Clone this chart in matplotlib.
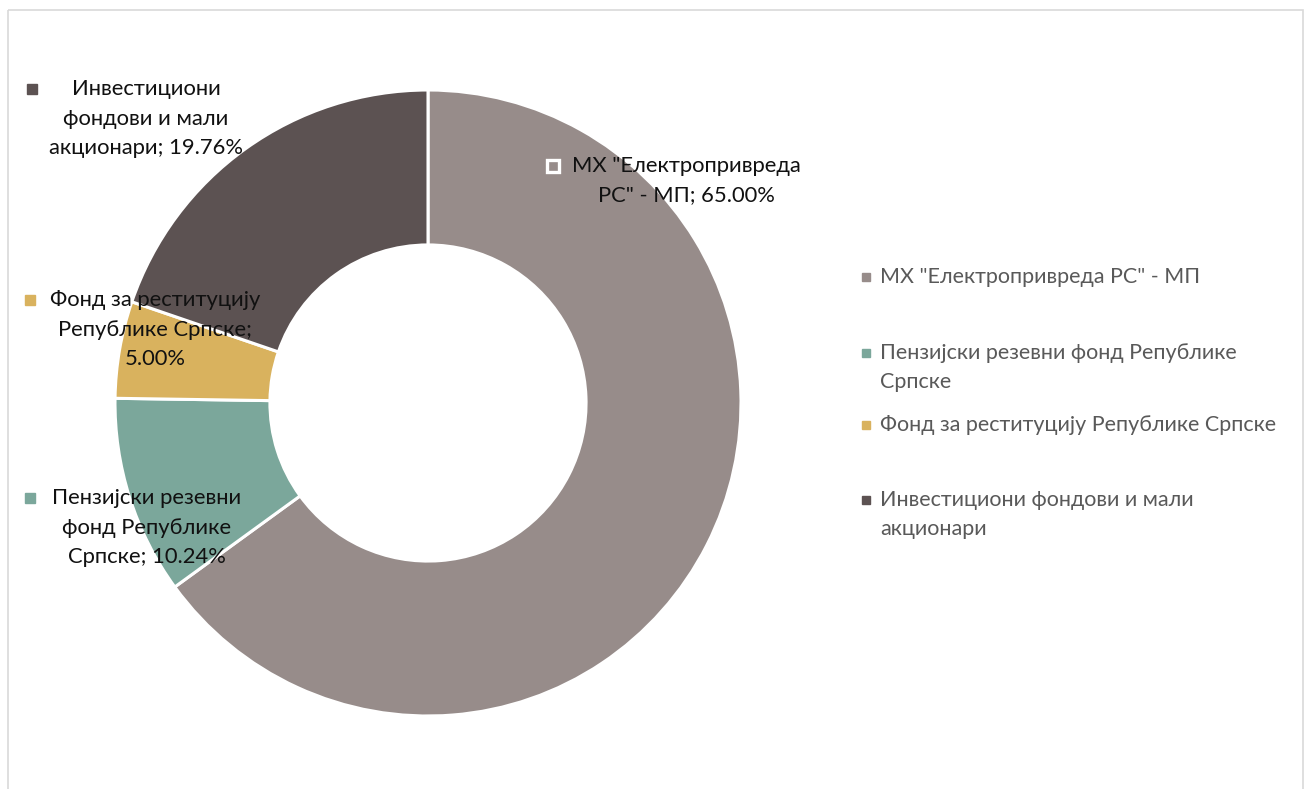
import matplotlib
matplotlib.use("Agg")
import matplotlib.pyplot as plt
from matplotlib.patches import Rectangle

categories = ['МХ "Електропривреда РС" - МП',
              'Пензијски резевни фонд Републике Српске',
              'Фонд за реституцију Републике Српске',
              'Инвестициони фондови и мали акционари']
values = [65.00, 10.24, 5.00, 19.76]
colors = ['#978c8a', '#7ba79b', '#d9b25e', '#5c5252']
label_lines = [
    ['МХ "Електропривреда', 'РС" - МП; 65.00%'],
    ['Пензијски резевни', 'фонд Републике', 'Српске; 10.24%'],
    ['Фонд за реституцију', 'Републике Српске;', '5.00%'],
    ['Инвестициони', 'фондови и мали', 'акционари; 19.76%'],
]
legend_lines = [
    ['МХ "Електропривреда РС" - МП'],
    ['Пензијски резевни фонд Републике', 'Српске'],
    ['Фонд за реституцију Републике Српске'],
    ['Инвестициони фондови и мали', 'акционари'],
]

plt.rcParams['font.family'] = ['Lato', 'DejaVu Sans']
W, H = 1304, 789
fig = plt.figure(figsize=(W / 100, H / 100), dpi=100)

# overlay axes in pixel coordinates
ov = fig.add_axes([0, 0, 1, 1])
ov.set_xlim(0, W)
ov.set_ylim(H, 0)
ov.axis('off')
ov.add_patch(Rectangle((8, 10), 1295, 800, fill=False, edgecolor='#d9d9d9', lw=1.2))

cx, cy, R = 428, 403, 313
pax = fig.add_axes([(cx - R) / W, (H - cy - R) / H, 2 * R / W, 2 * R / H])
pax.pie(values, colors=colors, startangle=90, counterclock=False, radius=1.0,
        wedgeprops=dict(width=0.495, edgecolor='white', linewidth=2.2))
pax.set_xlim(-1, 1)
pax.set_ylim(-1, 1)
pax.set_aspect('equal')
pax.axis('off')
pax.set_zorder(0)
ov.set_zorder(1)
ov.patch.set_alpha(0)

# data labels: (center x, first line y, marker x)
lab_pos = [(686, 166, 553), (147, 498, 30), (155, 300, 30), (146, 89, 32)]
lh = 29.5
for i, (lines, (x, y, mx)) in enumerate(zip(label_lines, lab_pos)):
    for j, t in enumerate(lines):
        ov.text(x, y + j * lh, t, ha='center', va='center', fontsize=15.8, color='#111111')
    if i == 0:
        ov.plot(mx, y, marker='s', ms=9, mfc=colors[i], mec='white', mew=2.4, ls='none')
    else:
        ov.plot(mx, y, marker='s', ms=7, mfc=colors[i], mec=colors[i], ls='none')

# legend
leg_y = [277, 353, 425, 500]
for i, lines in enumerate(legend_lines):
    ov.plot(866, leg_y[i], marker='s', ms=6, mfc=colors[i], mec=colors[i], ls='none')
    for j, t in enumerate(lines):
        ov.text(880, leg_y[i] + j * 29, t, ha='left', va='center', fontsize=15.5, color='#595959')

fig.savefig('out.png', dpi=100, facecolor='white')
